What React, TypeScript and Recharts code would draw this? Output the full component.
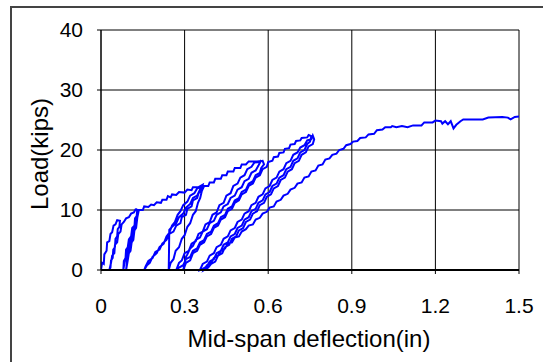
import { LineChart, Line, XAxis, YAxis, CartesianGrid, Label } from "recharts";

// deflection (in), load (kips) pairs for each loading cycle
const cycle1 = [
  [0, 0], [0.004, 1.2], [0.01, 1.0], [0.012, 2.6], [0.02, 3.2], [0.022, 4.6], [0.03, 4.8], [0.034, 6], [0.04, 6.3],
  [0.045, 7.4], [0.052, 7.6], [0.058, 8.3], [0.068, 8.2], [0.066, 7.2], [0.06, 6.8], [0.058, 5.6], [0.052, 5.2],
  [0.05, 3.8], [0.044, 3.4], [0.042, 2.0], [0.036, 1.6], [0.034, 0.4], [0.03, 0],
];
const cycle2 = [
  [0.03, 0], [0.036, 1.2], [0.04, 2.4], [0.048, 2.8], [0.05, 4.2], [0.058, 4.6], [0.062, 6], [0.07, 6.4],
  [0.074, 7.6], [0.082, 8], [0.09, 8.6], [0.1, 8.8], [0.108, 9.4], [0.118, 9.6], [0.124, 10.1], [0.132, 10],
  [0.13, 9], [0.124, 8.6], [0.12, 7.4], [0.112, 7], [0.108, 5.6], [0.1, 5.1], [0.096, 3.8], [0.09, 3.4],
  [0.088, 2], [0.082, 1.5], [0.08, 0],
];
const cycle3 = [
  [0.08, 0], [0.085, 1.4], [0.09, 1.8], [0.094, 3.2], [0.1, 3.6], [0.104, 5], [0.11, 5.5], [0.114, 6.8],
  [0.12, 7.2], [0.122, 8.6], [0.128, 9], [0.13, 10], [0.135, 9.8], [0.128, 8.2], [0.124, 7.8], [0.118, 6.4],
  [0.112, 6], [0.108, 4.6], [0.102, 4.2], [0.098, 2.6], [0.094, 2.2], [0.092, 0.8], [0.09, 0],
];
const cycle4 = [
  [0.09, 0], [0.096, 1.6], [0.1, 2.8], [0.106, 3.2], [0.11, 4.6], [0.116, 5], [0.12, 6.6], [0.126, 7],
  [0.13, 8.6], [0.134, 10], [0.15, 10], [0.155, 10.6], [0.17, 10.5], [0.18, 10.9], [0.19, 10.8], [0.2, 11.3],
  [0.215, 11.2], [0.22, 11.7], [0.235, 11.7], [0.24, 12.3], [0.25, 12.1], [0.255, 12.6], [0.27, 12.5],
  [0.28, 13], [0.3, 12.9], [0.31, 13.4], [0.325, 13.3], [0.33, 13.8], [0.35, 13.8], [0.365, 14.2],
  [0.36, 13.2], [0.35, 12.8], [0.345, 12], [0.33, 11.6], [0.325, 10.6], [0.31, 10.2], [0.305, 9.2],
  [0.29, 8.8], [0.285, 7.8], [0.27, 7.4], [0.26, 6.4], [0.245, 6], [0.235, 5], [0.22, 4.4], [0.21, 3.4],
  [0.195, 3], [0.185, 2], [0.17, 1.5], [0.16, 0.6], [0.155, 0],
];
const cycle5 = [
  [0.155, 0], [0.165, 0.8], [0.175, 1.2], [0.185, 2.2], [0.2, 2.8], [0.21, 3.8], [0.225, 4.4], [0.235, 5.6],
  [0.245, 6.2], [0.255, 7.4], [0.265, 8], [0.275, 9.2], [0.285, 9.8], [0.295, 10.8], [0.31, 11.4],
  [0.32, 12.4], [0.335, 12.8], [0.345, 13.6], [0.36, 13.8], [0.365, 14.2], [0.355, 13.4], [0.345, 12.4],
  [0.33, 12], [0.32, 11], [0.305, 10.4], [0.295, 9.4], [0.28, 8.8], [0.27, 7.8], [0.255, 7.2], [0.245, 6.7],
  [0.244, 3], [0.243, 0],
];
const cycle6 = [
  [0.243, 0], [0.25, 1.2], [0.26, 1.8], [0.268, 3.2], [0.28, 3.8], [0.29, 5.2], [0.3, 5.8], [0.31, 7.2],
  [0.32, 7.8], [0.33, 9.2], [0.34, 9.8], [0.348, 11.2], [0.356, 12], [0.362, 13.2], [0.37, 14], [0.385, 14],
  [0.39, 14.6], [0.405, 14.6], [0.41, 15.2], [0.43, 15.2], [0.435, 15.8], [0.45, 15.8], [0.455, 16.4],
  [0.475, 16.4], [0.48, 17], [0.5, 17], [0.505, 17.6], [0.52, 17.6], [0.53, 18.1], [0.56, 18.1],
  [0.58, 18.2], [0.585, 17.6], [0.575, 17], [0.57, 16.2], [0.555, 15.8], [0.545, 14.8], [0.53, 14.4],
  [0.52, 13.4], [0.505, 13], [0.495, 12], [0.48, 11.6], [0.47, 10.6], [0.455, 10.2], [0.445, 9.2],
  [0.43, 8.8], [0.42, 7.8], [0.405, 7.4], [0.395, 6.4], [0.38, 6], [0.37, 5], [0.355, 4.6], [0.345, 3.6],
  [0.33, 3.2], [0.32, 2.2], [0.305, 1.8], [0.295, 0.8], [0.28, 0.4], [0.27, 0],
];
const cycle7 = [
  [0.27, 0], [0.28, 1.2], [0.29, 1.6], [0.3, 2.8], [0.315, 3.2], [0.325, 4.4], [0.34, 4.8], [0.35, 6],
  [0.365, 6.4], [0.375, 7.6], [0.39, 8], [0.4, 9.2], [0.415, 9.6], [0.425, 10.8], [0.44, 11.2], [0.45, 12.4],
  [0.465, 12.8], [0.475, 14], [0.49, 14.4], [0.5, 15.4], [0.515, 15.8], [0.525, 16.8], [0.54, 17.2],
  [0.55, 17.9], [0.57, 18], [0.575, 18.3], [0.565, 17.4], [0.555, 16.6], [0.54, 16.2], [0.53, 15.2],
  [0.515, 14.8], [0.505, 13.8], [0.49, 13.4], [0.48, 12.4], [0.465, 12], [0.455, 11], [0.44, 10.6],
  [0.43, 9.6], [0.415, 9.2], [0.405, 8.2], [0.39, 7.8], [0.38, 6.8], [0.365, 6.4], [0.355, 5.4],
  [0.34, 5], [0.33, 4], [0.32, 3.6], [0.31, 2.6], [0.305, 2.2], [0.3, 1.2], [0.298, 0.6], [0.295, 0],
];
const cycle8 = [
  [0.295, 0], [0.305, 1.2], [0.32, 1.6], [0.33, 2.8], [0.345, 3.2], [0.355, 4.2], [0.37, 4.6], [0.38, 5.6],
  [0.395, 6], [0.405, 7], [0.42, 7.4], [0.43, 8.4], [0.445, 8.8], [0.455, 9.8], [0.47, 10.2], [0.48, 11.2],
  [0.495, 11.6], [0.505, 12.6], [0.52, 13], [0.53, 14], [0.545, 14.4], [0.555, 15.4], [0.57, 15.8],
  [0.58, 16.8], [0.595, 17.2], [0.6, 18], [0.615, 18.2], [0.62, 18.8], [0.635, 18.9], [0.64, 19.5],
  [0.655, 19.6], [0.66, 20.2], [0.675, 20.3], [0.68, 20.9], [0.695, 21], [0.7, 21.5], [0.715, 21.6],
  [0.72, 22], [0.74, 22.1], [0.745, 22.5], [0.755, 22.3], [0.75, 21.4], [0.74, 21], [0.73, 20],
  [0.715, 19.6], [0.705, 18.6], [0.69, 18.2], [0.68, 17.2], [0.665, 16.8], [0.655, 15.8], [0.64, 15.4],
  [0.63, 14.4], [0.615, 14], [0.605, 13], [0.59, 12.6], [0.58, 11.6], [0.565, 11.2], [0.555, 10.2],
  [0.54, 9.8], [0.53, 8.8], [0.515, 8.4], [0.505, 7.4], [0.49, 7], [0.48, 6], [0.465, 5.6], [0.455, 4.6],
  [0.44, 4.2], [0.43, 3.2], [0.415, 2.8], [0.405, 1.8], [0.39, 1.4], [0.38, 0.6], [0.365, 0.2], [0.355, 0],
];
const cycle9 = [
  [0.355, 0], [0.365, 1], [0.38, 1.4], [0.39, 2.4], [0.405, 2.8], [0.415, 3.8], [0.43, 4.2], [0.44, 5.2],
  [0.455, 5.6], [0.465, 6.6], [0.48, 7], [0.49, 8], [0.505, 8.4], [0.515, 9.4], [0.53, 9.8], [0.54, 10.8],
  [0.555, 11.2], [0.565, 12.2], [0.58, 12.6], [0.59, 13.6], [0.605, 14], [0.615, 15], [0.63, 15.4],
  [0.64, 16.4], [0.655, 16.8], [0.665, 17.8], [0.68, 18.2], [0.69, 19.2], [0.705, 19.6], [0.715, 20.4],
  [0.73, 20.8], [0.74, 21.6], [0.755, 21.8], [0.76, 22.4], [0.765, 21.8], [0.76, 21], [0.745, 20.6],
  [0.735, 19.6], [0.72, 19.2], [0.71, 18.2], [0.695, 17.8], [0.685, 16.8], [0.67, 16.4], [0.66, 15.4],
  [0.645, 15], [0.635, 14], [0.62, 13.6], [0.61, 12.6], [0.595, 12.2], [0.585, 11.2], [0.57, 10.8],
  [0.56, 9.8], [0.545, 9.4], [0.535, 8.4], [0.52, 8], [0.51, 7], [0.495, 6.6], [0.485, 5.6], [0.47, 5.2],
  [0.46, 4.2], [0.445, 3.8], [0.435, 2.8], [0.42, 2.4], [0.41, 1.4], [0.395, 1], [0.385, 0.4], [0.37, 0],
];
const finalRun = [
  [0.37, 0], [0.38, 0.8], [0.395, 1.2], [0.405, 2], [0.42, 2.4], [0.43, 3.2], [0.445, 3.6], [0.455, 4.4],
  [0.47, 4.6], [0.48, 5.4], [0.495, 5.6], [0.505, 6.4], [0.52, 6.8], [0.53, 7.4], [0.545, 7.6], [0.555, 8.4],
  [0.57, 8.7], [0.58, 9.4], [0.595, 9.7], [0.605, 10.4], [0.62, 10.6], [0.63, 11.4], [0.645, 11.7],
  [0.655, 12.4], [0.67, 12.7], [0.68, 13.4], [0.695, 13.7], [0.705, 14.4], [0.72, 14.6], [0.73, 15.4],
  [0.745, 15.6], [0.755, 16.4], [0.77, 16.6], [0.78, 17.4], [0.795, 17.6], [0.805, 18.4], [0.82, 18.6],
  [0.83, 19.2], [0.845, 19.4], [0.855, 20], [0.87, 20.2], [0.88, 20.8], [0.895, 21], [0.905, 21.4],
  [0.92, 21.5], [0.93, 22], [0.95, 22.1], [0.96, 22.6], [0.98, 22.7], [0.99, 23.3], [1.01, 23.4],
  [1.02, 23.8], [1.04, 23.8], [1.045, 24], [1.06, 23.8], [1.08, 24], [1.1, 23.8], [1.12, 24.1],
  [1.15, 24.1], [1.16, 24.6], [1.19, 24.6], [1.2, 24.9], [1.22, 24.8], [1.225, 24.4], [1.235, 24.8],
  [1.245, 24.3], [1.255, 24.8], [1.265, 23.6], [1.275, 24.2], [1.29, 24.8], [1.3, 25.1], [1.34, 25.1],
  [1.37, 25.1], [1.39, 25.4], [1.44, 25.5], [1.46, 25.4], [1.47, 25.1], [1.485, 25.5], [1.5, 25.6],
];

const xTicks = [0, 0.3, 0.6, 0.9, 1.2, 1.5];
const yTicks = [0, 10, 20, 30, 40];

const points = [cycle1, cycle2, cycle3, cycle4, cycle5, cycle6, cycle7, cycle8, cycle9, finalRun]
  .flat()
  .map(([x, y]) => ({ x, y }));

const font = "'Liberation Sans', Arial, sans-serif";

export default function App() {
  return (
    <div style={{ position: "absolute", left: 0, top: 0, width: 543, height: 362, background: "#fff" }}>
      <div
        style={{
          position: "absolute", left: 10, top: 6, right: 0, bottom: 0,
          borderLeft: "2px solid #444", borderTop: "2px solid #444",
        }}
      />
      <LineChart
        width={543}
        height={362}
        data={points}
        margin={{ top: 30, right: 24, bottom: 0, left: 0 }}
        style={{ position: "absolute", left: 0, top: 0, fontFamily: font }}
      >
        <CartesianGrid stroke="#000" strokeWidth={1} horizontalValues={yTicks} verticalValues={xTicks} />
        <XAxis
          dataKey="x"
          type="number"
          domain={[0, 1.5]}
          ticks={xTicks}
          allowDataOverflow
          height={92}
          tickSize={4}
          tickMargin={24}
          tick={{ fontSize: 21, fill: "#000", fontFamily: font }}
          axisLine={{ stroke: "#000", strokeWidth: 2 }}
          tickLine={{ stroke: "#000" }}
          tickFormatter={(v: number) => (v === 0 ? "0" : v.toFixed(1))}
        >
          <Label
            content={() => (
              <text x={309} y={347} textAnchor="middle" fontSize={24} fontFamily={font} fill="#000">
                Mid-span deflection(in)
              </text>
            )}
          />
        </XAxis>
        <YAxis
          type="number"
          domain={[0, 40]}
          ticks={yTicks}
          width={101}
          tickSize={4}
          tickMargin={14}
          tick={{ fontSize: 21, fill: "#000", fontFamily: font }}
          axisLine={{ stroke: "#000", strokeWidth: 1 }}
          tickLine={{ stroke: "#000" }}
        >
          <Label
            content={() => (
              <text
                x={48}
                y={154}
                transform="rotate(-90, 48, 154)"
                textAnchor="middle"
                fontSize={24}
                fontFamily={font}
                fill="#000"
              >
                Load(kips)
              </text>
            )}
          />
        </YAxis>
        <Line
          type="linear"
          dataKey="y"
          stroke="#0000FF"
          strokeWidth={2}
          dot={false}
          isAnimationActive={false}
        />
      </LineChart>
    </div>
  );
}
